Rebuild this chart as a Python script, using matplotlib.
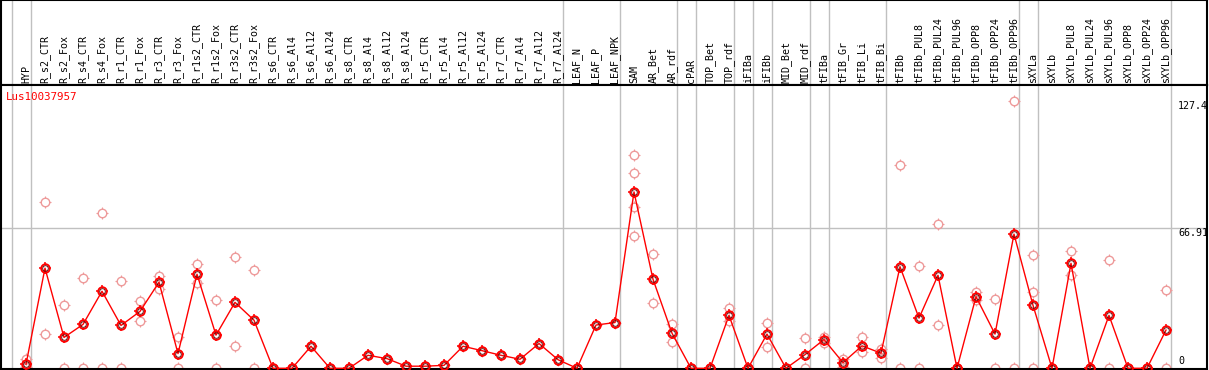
import matplotlib
matplotlib.use("Agg")
import matplotlib.pyplot as plt
from matplotlib.path import Path

# sample names (one column each)
samples = ["HYP", "R_s2_CTR", "R_s2_Fox", "R_s4_CTR", "R_s4_Fox", "R_r1_CTR", "R_r1_Fox",
           "R_r3_CTR", "R_r3_Fox", "R_r1s2_CTR", "R_r1s2_Fox", "R_r3s2_CTR", "R_r3s2_Fox",
           "R_s6_CTR", "R_s6_Al4", "R_s6_Al12", "R_s6_Al24", "R_s8_CTR", "R_s8_Al4",
           "R_s8_Al12", "R_s8_Al24", "R_r5_CTR", "R_r5_Al4", "R_r5_Al12", "R_r5_Al24",
           "R_r7_CTR", "R_r7_Al4", "R_r7_Al12", "R_r7_Al24", "LEAF_N", "LEAF_P", "LEAF_NPK",
           "SAM", "AR_Bet", "AR_rdf", "cPAR", "TOP_Bet", "TOP_rdf", "iFIBa", "iFIBb",
           "MID_Bet", "MID_rdf", "tFIBa", "tFIB_Gr", "tFIB_Li", "tFIB_Bi", "tFIBb",
           "tFIBb_PUL8", "tFIBb_PUL24", "tFIBb_PUL96", "tFIBb_OPP8", "tFIBb_OPP24",
           "tFIBb_OPP96", "sXYLa", "sXYLb", "sXYLb_PUL8", "sXYLb_PUL24", "sXYLb_PUL96",
           "sXYLb_OPP8", "sXYLb_OPP24", "sXYLb_OPP96"]

# mean expression per sample
mean_expr = [1.9, 47.7, 14.7, 20.9, 36.7, 20.4, 27.1, 41.0, 7.0, 44.8, 15.8, 31.4, 22.9,
             0, 0, 10.5, 0, 0, 6.2, 4.6, 1.0, 1.0, 1.4, 10.5, 8.4, 6.2, 4.3, 11.8, 4.1,
             0, 20.6, 21.8, 84.0, 42.4, 16.7, 0, 0, 25.2, 0, 16.3, 0, 6.5, 13.7, 2.7,
             10.7, 7.2, 48.4, 23.9, 44.3, 0, 34.1, 16.3, 63.9, 30.0, 0, 50.0, 0, 25.2,
             0, 0, 18.2]

# replicate values (pale circles)
replicates = [[4.3, 0.8], [79.2, 16.1], [30.0, 0], [42.9, 0], [73.9, 0], [41.4, 0],
              [32.0, 22.3], [43.8, 37.8], [14.7, 0], [49.6, 40.5], [32.5, 0], [52.9, 10.5],
              [46.7, 0], [0, 0], [0, 0], [10.5], [0, 0], [0, 0], [6.2], [4.6], [1.0], [1.0],
              [1.4], [10.5], [8.4], [6.2], [4.3], [11.8], [4.1], [0], [20.6], [21.8],
              [101.7, 93.0, 76.8, 63.0], [54.3, 30.9], [20.9, 12.3], [0, 0], [0, 0],
              [28.5, 22.3], [0, 0], [21.8, 10.2], [0, 0], [14.2, 0], [15.0, 12.1],
              [4.5, 0.8], [14.7, 7.8], [9.1, 5.1], [97.0, 0], [48.8, 0], [68.7, 20.4],
              [0, 0], [36.3, 32.5], [33.0, 0], [127.4, 0], [53.9, 36.2, 0], [0, 0],
              [55.8, 44.3], [0, 0], [51.5, 0], [0, 0], [0, 0], [37.1, 0]]

group_ends = [-1, 0, 28, 31, 34, 35, 37, 38, 39, 41, 42, 45, 52, 53, 60]
gene = "Lus10037957"
y_max = 127.4
y_mid = 66.91

# small crosshair ticks sitting just outside the circle
ticks = Path([(0.75, 0), (1.0, 0), (-0.75, 0), (-1.0, 0), (0, 0.75), (0, 1.0), (0, -0.75), (0, -1.0)],
             [Path.MOVETO, Path.LINETO] * 4)


def circles(a, x, y, col, size, lw, z):
    a.plot(x, y, linestyle="none", marker="o", markersize=size * 0.72,
           markeredgecolor=col, markerfacecolor="none", markeredgewidth=lw,
           clip_on=False, zorder=z)
    a.plot(x, y, linestyle="none", marker=ticks, markersize=size,
           markeredgecolor=col, markerfacecolor="none", markeredgewidth=lw * 0.8,
           clip_on=False, zorder=z)


mono = "DejaVu Sans Mono"
W, H = 1209, 370
fig = plt.figure(figsize=(W / 100, H / 100), dpi=100)
x_lo, x_hi = (1 - 26) / 19, (1207 - 26) / 19

head = fig.add_axes([1 / W, (H - 85) / H, 1206 / W, 85 / H])
ax = fig.add_axes([1 / W, 1 / H, 1206 / W, 284 / H])

for a in (head, ax):
    a.set_xlim(x_lo, x_hi)
    a.set_xticks([])
    a.set_yticks([])
    for s in a.spines.values():
        s.set_linewidth(1.5)
        s.set_color("black")
    for g in group_ends:
        a.axvline(g + 5 / 19, color="#c0c0c0", lw=1.0, zorder=0)

head.set_ylim(0, 85)
for i, name in enumerate(samples):
    head.text(i, 2, name, rotation=90, ha="center", va="bottom",
              fontsize=7.2, family=mono)

scale = 2.1
ax.set_ylim(-0.7 / scale, (368.3 - 85) / scale)
ax.axhline(y_mid, color="#c0c0c0", lw=1.0, zorder=0)

xs = list(range(len(samples)))
for i, reps in enumerate(replicates):
    circles(ax, [i] * len(reps), reps, "#ee9a9a", 8.5, 1.0, 2)

ax.plot(xs, mean_expr, color="red", lw=1.0, zorder=3)
circles(ax, xs, mean_expr, "red", 8.5, 1.4, 4)
ax.plot(xs, mean_expr, linestyle="none", marker="o", markersize=4.0,
        markeredgecolor="#550000", markerfacecolor="none", markeredgewidth=0.6,
        clip_on=False, zorder=5)

ax.text(5 / 1206, 1 - 12 / 284, gene, transform=ax.transAxes, color="red",
        fontsize=7.8, family=mono, va="center", ha="left")

tx = (1178 - 1) / 1206
ytr = ax.get_yaxis_transform()
ax.text(tx, y_max, f"{y_max:g}", transform=ytr, va="top", ha="left", fontsize=7.2, family=mono)
ax.text(tx, y_mid, f"{y_mid:g}", transform=ytr, va="top", ha="left", fontsize=7.2, family=mono)
ax.text(tx, 1.0, "0", transform=ytr, va="bottom", ha="left", fontsize=7.2, family=mono)

fig.savefig("out.png", dpi=100)
